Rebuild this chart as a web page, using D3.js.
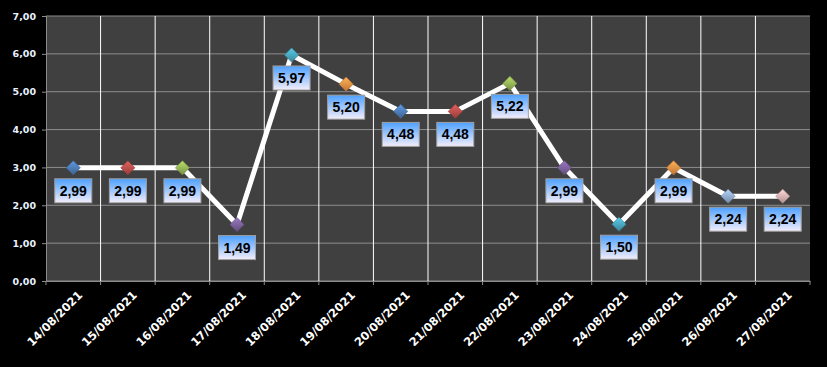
<!DOCTYPE html>
<html>
<head>
<meta charset="utf-8">
<script src="https://cdn.jsdelivr.net/npm/d3@7"></script>
<style>
  body { margin: 0; background: #000; }
  #container { width: 827px; height: 367px; }
</style>
</head>
<body>
<div id="container"></div>
<script>
// Chart data
const dates = ["14/08/2021", "15/08/2021", "16/08/2021", "17/08/2021", "18/08/2021", "19/08/2021", "20/08/2021",
               "21/08/2021", "22/08/2021", "23/08/2021", "24/08/2021", "25/08/2021", "26/08/2021", "27/08/2021"];
const values = [2.99, 2.99, 2.99, 1.49, 5.97, 5.20, 4.48, 4.48, 5.22, 2.99, 1.50, 2.99, 2.24, 2.24];
const yTicks = [0, 1, 2, 3, 4, 5, 6, 7];
const markerColors = ["#4f81bd", "#c0504d", "#9bbb59", "#8064a2", "#4bacc6", "#f79646", "#4f81bd",
                      "#c0504d", "#9bbb59", "#8064a2", "#4bacc6", "#f79646", "#95b3d7", "#e6b9b8"];

const totalWidth = 827, totalHeight = 367;
const margin = { top: 16, right: 17, bottom: 86, left: 46 };
const width = totalWidth - margin.left - margin.right,
      height = totalHeight - margin.top - margin.bottom;

const fmt = v => v.toFixed(2).replace(".", ",");

const svgRoot = d3.select("#container")
    .append("svg")
    .attr("width", totalWidth)
    .attr("height", totalHeight)
    .style("display", "block");

svgRoot.append("rect")
    .attr("width", totalWidth)
    .attr("height", totalHeight)
    .attr("fill", "#000");

const defs = svgRoot.append("defs");

// Label box gradient
const lg = defs.append("linearGradient")
    .attr("id", "labelGrad")
    .attr("x1", 0).attr("y1", 0).attr("x2", 0).attr("y2", 1);
lg.append("stop").attr("offset", "0%").attr("stop-color", "#4da0ff");
lg.append("stop").attr("offset", "100%").attr("stop-color", "#f4eefa");

// Marker gradients
markerColors.forEach((c, i) => {
    const g = defs.append("linearGradient")
        .attr("id", "mk" + i)
        .attr("x1", 0).attr("y1", 0).attr("x2", 1).attr("y2", 1);
    g.append("stop").attr("offset", "0%").attr("stop-color", d3.color(c).brighter(0.5));
    g.append("stop").attr("offset", "100%").attr("stop-color", d3.color(c).darker(0.7));
});

const svg = svgRoot.append("g")
    .attr("transform", "translate(" + margin.left + "," + margin.top + ")");

// Scales
const x = d3.scaleBand()
    .domain(dates)
    .range([0, width]);

const y = d3.scaleLinear()
    .domain([0, 7])
    .range([height, 0]);

// Plot area
svg.append("rect")
    .attr("width", width)
    .attr("height", height)
    .attr("fill", "#404040");

// Horizontal grid
svg.append("g")
    .selectAll("line")
    .data(yTicks)
    .join("line")
    .attr("x1", 0).attr("x2", width)
    .attr("y1", d => y(d)).attr("y2", d => y(d))
    .attr("stroke", "#8c8c8c")
    .attr("stroke-width", 1);

// Vertical grid at category boundaries
svg.append("g")
    .selectAll("line")
    .data(dates.slice(1))
    .join("line")
    .attr("x1", d => x(d)).attr("x2", d => x(d))
    .attr("y1", 0).attr("y2", height)
    .attr("stroke", "#ffffff")
    .attr("stroke-width", 1);

// Y axis
const yAxis = svg.append("g")
    .call(d3.axisLeft(y).tickValues(yTicks).tickSize(4).tickPadding(6).tickFormat(fmt));
yAxis.select(".domain").attr("stroke", "#8c8c8c");
yAxis.selectAll(".tick line").attr("stroke", "#8c8c8c");
yAxis.selectAll("text")
    .attr("fill", "#e8f2ff")
    .style("font-family", "'DejaVu Sans', sans-serif")
    .style("font-size", "9.5px")
    .style("font-weight", "bold");

// X axis
const xAxis = svg.append("g")
    .attr("transform", "translate(0," + height + ")")
    .call(d3.axisBottom(x).tickSize(0).tickSizeOuter(0));
xAxis.select(".domain").attr("stroke", "#8c8c8c");
xAxis.selectAll("text")
    .attr("fill", "#ffffff")
    .style("font-family", "'DejaVu Sans', sans-serif")
    .style("font-size", "11.5px")
    .style("font-weight", "bold")
    .attr("text-anchor", "end")
    .attr("transform", "translate(7,12) rotate(-45)")
    .attr("dy", "0.35em")
    .attr("y", 0);

// X tick marks at boundaries
svg.append("g")
    .selectAll("line")
    .data(d3.range(dates.length + 1))
    .join("line")
    .attr("x1", i => i * x.bandwidth()).attr("x2", i => i * x.bandwidth())
    .attr("y1", height).attr("y2", height + 4)
    .attr("stroke", "#8c8c8c");

// Line
const cx = d => x(d) + x.bandwidth() / 2;
svg.append("path")
    .datum(values)
    .attr("fill", "none")
    .attr("stroke", "#ffffff")
    .attr("stroke-width", 5)
    .attr("stroke-linejoin", "round")
    .attr("d", d3.line()
        .x((d, i) => cx(dates[i]))
        .y(d => y(d)));

// Markers
svg.append("g")
    .selectAll("path")
    .data(values)
    .join("path")
    .attr("transform", (d, i) => "translate(" + cx(dates[i]) + "," + y(d) + ") rotate(45)")
    .attr("d", "M-5,-5H5V5H-5Z")
    .attr("fill", (d, i) => "url(#mk" + i + ")")
    .attr("stroke", (d, i) => d3.color(markerColors[i]).darker(0.8))
    .attr("stroke-width", 0.6);

// Data labels
const labels = svg.append("g")
    .selectAll("g")
    .data(values)
    .join("g")
    .attr("transform", (d, i) => "translate(" + cx(dates[i]) + "," + (y(d) + 11) + ")");

labels.append("rect")
    .attr("x", -18.5)
    .attr("y", 0)
    .attr("width", 37)
    .attr("height", 24)
    .attr("fill", "url(#labelGrad)")
    .attr("stroke", "#a0a0a0")
    .attr("stroke-width", 1);

labels.append("text")
    .attr("x", 0)
    .attr("y", 12)
    .attr("dy", "0.36em")
    .attr("text-anchor", "middle")
    .style("font-family", "'Liberation Sans', sans-serif")
    .style("font-size", "14px")
    .style("font-weight", "bold")
    .attr("fill", "#000")
    .text(d => fmt(d));
</script>
</body>
</html>
